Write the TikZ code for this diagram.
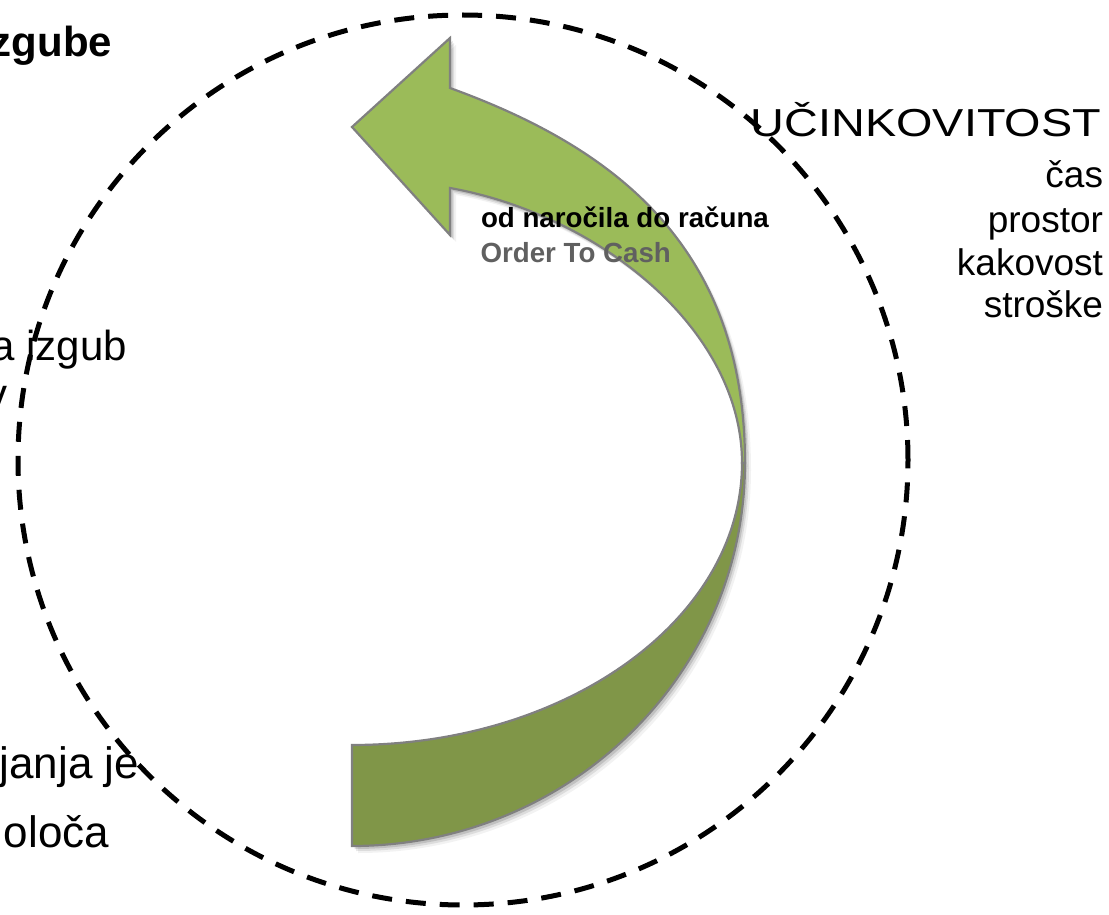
\documentclass[tikz,border=0pt]{standalone}
\usepackage{fontspec}
\setmainfont{Liberation Sans}
\usetikzlibrary{calc}
\definecolor{lightgreen}{RGB}{155,187,89}
\definecolor{darkgreen}{RGB}{128,150,72}
\definecolor{rimgray}{RGB}{128,128,128}
\definecolor{labelgray}{RGB}{96,96,96}
\tikzset{
  ring/.style={line width=5pt, dash pattern=on 20pt off 14pt},
  bandedge/.style={draw=rimgray, line width=2.2pt, line join=miter},
  shade/.style={fill=black, opacity=#1},
  txt/.style={inner sep=0pt, outer sep=0pt, text=black},
  sidebig/.style={txt, font=\fontsize{42}{48}\selectfont},
  sidehuge/.style={txt, font=\fontsize{44}{52}\selectfont},
  listitem/.style={txt, anchor=base east, font=\fontsize{37}{43}\selectfont},
  cyclelabel/.style={txt, anchor=base west, font=\bfseries\fontsize{27.7}{33}\selectfont}
}
\begin{document}
\begin{tikzpicture}[x=1pt,y=1pt]
\useasboundingbox (0,0) rectangle (1109,-915);
\clip (0,0) rectangle (1109,-915);

% dashed circle
\draw[ring] (463,-460) circle[radius=445];

% soft shadows of the arrow
\foreach \dx/\dy/\op in {6/-7/0.05,4/-5/0.09,2.5/-3/0.13}{
  \fill[shade=\op, shift={(\dx,\dy)}]
    (352,-745) arc[start angle=270,end angle=360,x radius=390,y radius=282]
    -- (745,-463) arc[start angle=0,end angle=-90,x radius=393,y radius=383] -- cycle;
  \fill[shade=\op, shift={(\dx,\dy)}]
    (742,-463) -- (745,-463)
    .. controls (745,-243) and (610,-146) .. (450,-88)
    -- (450,-38) -- (352,-127) -- (450,-235) -- (450,-188)
    .. controls (600,-215) and (742,-330) .. (742,-463) -- cycle;
}

% lower (dark) part of the curved arrow
\filldraw[bandedge, fill=darkgreen]
  (352,-745) arc[start angle=270,end angle=360,x radius=390,y radius=282]
  -- (745,-463) arc[start angle=0,end angle=-90,x radius=393,y radius=383] -- cycle;

% upper (light) part with the arrow head
\filldraw[bandedge, fill=lightgreen]
  (742,-463) -- (745,-463)
  .. controls (745,-243) and (610,-146) .. (450,-88)
  -- (450,-38) -- (352,-127) -- (450,-235) -- (450,-188)
  .. controls (600,-215) and (742,-330) .. (742,-463) -- cycle;

% labels on the arrow
\node[cyclelabel] (ocA) at (481,-227) {od naročila do računa};
\node[cyclelabel, text=labelgray] (ocB) at (480.5,-262) {Order To Cash};

% left side texts (cut by the border)
\node[txt, anchor=base east, font=\bfseries\fontsize{42}{50}\selectfont] (zg) at (112,-57) {zgube};
\node[sidebig, anchor=base east] (iz) at (127,-360) {a izgub};
\node[sidebig, anchor=base east] (vv) at (8,-408) {v};
\node[sidehuge, anchor=base east] (jj) at (139,-778) {janja je};
\node[sidehuge, anchor=base east] (ol) at (109,-847) {oloča};

% right side texts
\node[txt, anchor=base east, font=\fontsize{39}{45}\selectfont] (uc) at (1101,-137) {\scalebox{1.2}[1]{UČINKOVITOST}};
\node[listitem] (l1) at (1103,-188) {čas};
\node[listitem] (l2) at (1103,-232) {prostor};
\node[listitem] (l3) at (1103,-275) {kakovost};
\node[listitem] (l4) at (1103,-317) {stroške};
\end{tikzpicture}
\end{document}
